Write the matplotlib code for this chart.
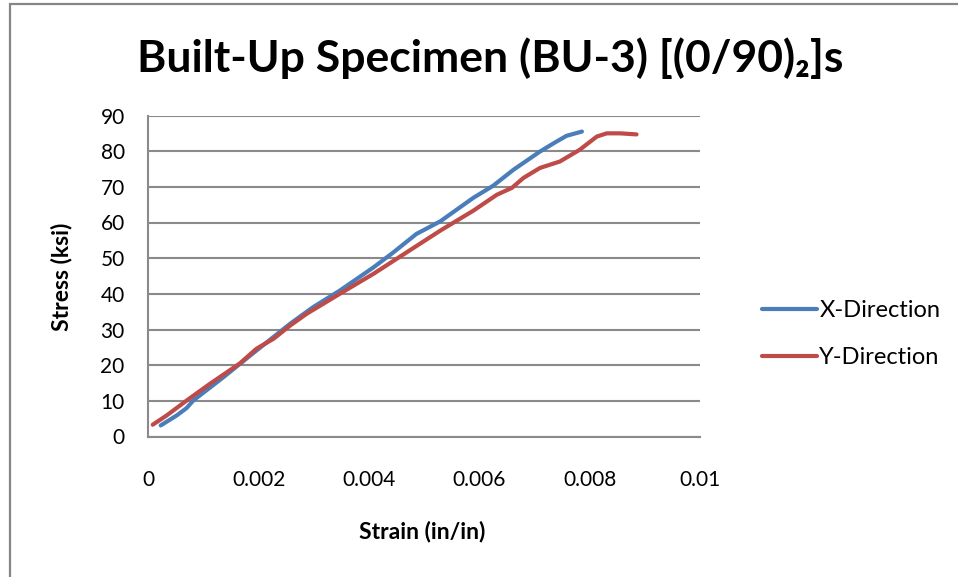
import matplotlib
matplotlib.use("Agg")
import matplotlib.pyplot as plt
from matplotlib.patches import Rectangle

plt.rcParams['font.family'] = ['Lato', 'DejaVu Sans']

title = "Built-Up Specimen (BU-3) [(0/90)₂]s"
xlabel = "Strain (in/in)"
ylabel = "Stress (ksi)"

x_dir_strain = [0.000225, 0.000515, 0.000696, 0.000816, 0.00136, 0.00196, 0.00257, 0.00299,
                0.00347, 0.00408, 0.00444, 0.00486, 0.00529, 0.00589, 0.00625, 0.00662,
                0.00710, 0.00740, 0.00758, 0.00786]
x_dir_stress = [3.1, 5.9, 8.0, 10.1, 16.6, 24.1, 31.6, 36.3,
                40.9, 47.4, 51.6, 56.8, 60.3, 66.9, 70.3, 74.8,
                79.9, 82.7, 84.3, 85.5]

y_dir_strain = [0.00008, 0.000333, 0.000696, 0.00112, 0.00166, 0.00196, 0.00227, 0.00257,
                0.00287, 0.00347, 0.00408, 0.00468, 0.00529, 0.00589, 0.00632, 0.00659,
                0.00680, 0.00710, 0.00746, 0.00782, 0.00813, 0.00831, 0.00855, 0.00885]
y_dir_stress = [3.3, 5.9, 10.1, 14.8, 20.5, 24.6, 27.4, 31.1,
                34.4, 40.0, 45.6, 51.6, 57.7, 63.3, 67.8, 69.7,
                72.5, 75.3, 77.1, 80.4, 84.1, 85.0, 85.0, 84.7]

x_ticks = [0, 0.002, 0.004, 0.006, 0.008, 0.01]
x_tick_labels = ["0", "0.002", "0.004", "0.006", "0.008", "0.01"]
y_ticks = [0, 10, 20, 30, 40, 50, 60, 70, 80, 90]

W, H = 958, 577
fig = plt.figure(figsize=(W / 100, H / 100), dpi=100)
fig.patch.set_facecolor("white")

# outer chart border
fig.patches.append(Rectangle((10 / W, -0.2), 2.0, 1 - 3.5 / H + 0.2, transform=fig.transFigure,
                             fill=False, edgecolor="#868686", linewidth=1.6))

ax = fig.add_axes([148.3 / W, 1 - 436.5 / H, (700 - 148.3) / W, (436.5 - 115.5) / H])
ax.plot(x_dir_strain, x_dir_stress, color="#4A7EBB", linewidth=3.0, solid_capstyle="round",
        solid_joinstyle="round", label="X-Direction")
ax.plot(y_dir_strain, y_dir_stress, color="#BE4B48", linewidth=3.0, solid_capstyle="round",
        solid_joinstyle="round", label="Y-Direction")

ax.set_xlim(0, 0.01)
ax.set_ylim(0, 90)
ax.set_xticks(x_ticks)
ax.set_xticklabels(x_tick_labels)
ax.set_yticks(y_ticks)
ax.tick_params(axis="both", length=0, labelsize=15, colors="black")
ax.tick_params(axis="x", pad=24)
ax.tick_params(axis="y", pad=17)
ax.grid(axis="y", color="#8A8A8A", linewidth=1.5)
ax.set_axisbelow(True)
for s in ["top", "right"]:
    ax.spines[s].set_visible(False)
for s in ["left", "bottom"]:
    ax.spines[s].set_color("#8A8A8A")
    ax.spines[s].set_linewidth(1.5)

fig.text(490 / W, 1 - 58 / H, title, ha="center", va="center", fontsize=32, fontweight="bold")
fig.text(422 / W, 1 - 531 / H, xlabel, ha="center", va="center", fontsize=16.5, fontweight="bold")
fig.text(62 / W, 1 - 277 / H, ylabel, ha="center", va="center", fontsize=16.5, fontweight="bold",
         rotation=90)

leg = ax.legend(loc="upper left", bbox_to_anchor=(762 / W, 1 - 300 / H), bbox_transform=fig.transFigure,
                frameon=False, fontsize=17, handlelength=2.35, handletextpad=0.08, labelspacing=1.1,
                borderaxespad=0, borderpad=0)

fig.savefig("out.png", dpi=100)
